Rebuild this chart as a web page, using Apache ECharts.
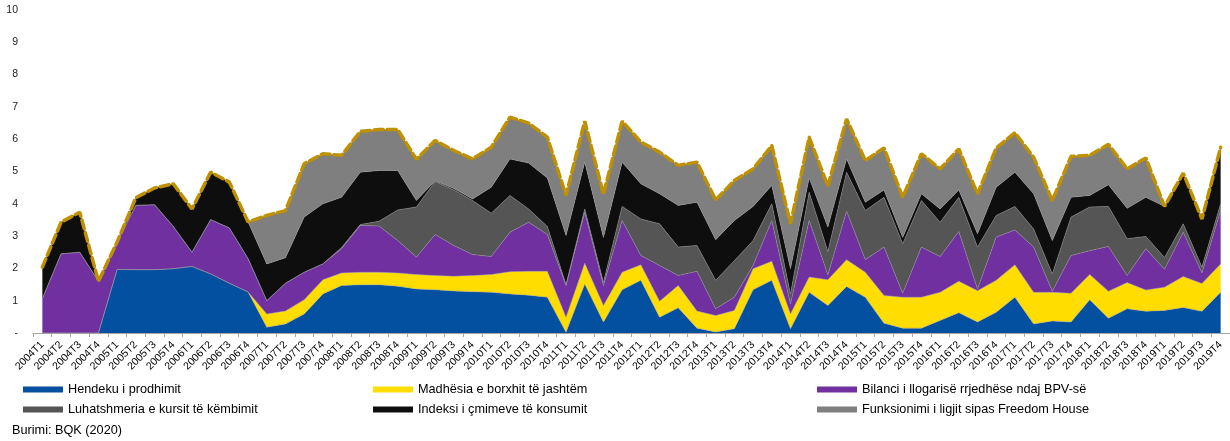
<!DOCTYPE html>
<html>
<head>
<meta charset="utf-8">
<script src="https://cdn.jsdelivr.net/npm/echarts@6/dist/echarts.min.js"></script>
<style>
  html, body { margin: 0; padding: 0; background: #fff; }
  #chart { width: 1230px; height: 441px; }
</style>
</head>
<body>
<div id="chart"></div>
<script>
// Quarterly components of the index, 2004T1–2019T4
const categories = [
  '2004T1','2004T2','2004T3','2004T4','2005T1','2005T2','2005T3','2005T4',
  '2006T1','2006T2','2006T3','2006T4','2007T1','2007T2','2007T3','2007T4',
  '2008T1','2008T2','2008T3','2008T4','2009T1','2009T2','2009T3','2009T4',
  '2010T1','2010T2','2010T3','2010T4','2011T1','2011T2','2011T3','2011T4',
  '2012T1','2012T2','2012T3','2012T4','2013T1','2013T2','2013T3','2013T4',
  '2014T1','2014T2','2014T3','2014T4','2015T1','2015T2','2015T3','2015T4',
  '2016T1','2016T2','2016T3','2016T4','2017T1','2017T2','2017T3','2017T4',
  '2018T1','2018T2','2018T3','2018T4','2019T1','2019T2','2019T3','2019T4'
];

const hendeku = [
  0,0,0,0,1.97,1.96,1.96,1.99,2.06,1.83,1.54,1.27,
  0.18,0.28,0.59,1.21,1.47,1.49,1.49,1.45,
  1.36,1.34,1.30,1.28,1.26,1.21,1.17,1.11,
  0.02,1.52,0.34,1.34,1.63,0.49,0.78,0.15,
  0.03,0.13,1.34,1.63,0.13,1.26,0.85,1.44,
  1.11,0.30,0.15,0.15,0.39,0.63,0.34,0.64,
  1.11,0.28,0.37,0.34,1.03,0.46,0.75,0.67,
  0.70,0.79,0.67,1.26
];

const borxhi = [
  0,0,0,0,0,0,0,0,0,0,0,0,
  0.41,0.40,0.44,0.44,0.39,0.39,0.39,0.41,
  0.45,0.44,0.46,0.50,0.55,0.69,0.74,0.80,
  0.47,0.64,0.51,0.54,0.48,0.49,0.69,0.53,
  0.51,0.57,0.65,0.59,0.46,0.47,0.80,0.83,
  0.77,0.86,0.96,0.96,0.87,0.97,0.97,0.99,
  1.00,0.98,0.89,0.89,0.78,0.83,0.81,0.66,
  0.72,0.96,0.86,0.88
];

const bilanci = [
  1.06,2.45,2.50,1.60,0.85,1.99,2.01,1.31,0.44,1.68,1.71,1.03,
  0.41,0.86,0.85,0.49,0.75,1.45,1.43,1.00,
  0.54,1.27,0.95,0.65,0.56,1.22,1.52,1.14,
  0.98,1.58,0.62,1.60,0.29,1.11,0.31,1.23,
  0.21,0.41,0.10,1.26,0.31,1.75,0.15,1.50,
  0.39,1.50,0.12,1.55,1.11,1.54,0.05,1.34,
  1.08,1.40,0.03,1.17,0.74,1.39,0.22,1.28,
  0.55,1.37,0.33,1.65
];

const kursi = [
  0,0,0,0,0,0,0,0,0,0,0,0,
  0,0,0,0,0.04,0.03,0.15,0.95,
  1.55,1.64,1.72,1.67,1.34,1.14,0.41,0.25,
  0.03,0.10,0.10,0.44,1.13,1.29,0.88,0.80,
  0.88,1.13,0.77,0.52,0.31,0.88,0.72,1.21,
  1.52,1.54,1.53,1.44,1.06,1.06,1.30,0.67,
  0.73,0.56,0.54,1.19,1.35,1.24,1.14,0.38,
  0.37,0.26,0.18,0.21
];

const cmimet = [
  0.98,0.98,1.24,0,0,0.24,0.52,1.32,1.34,1.47,1.42,1.14,
  1.14,0.79,1.71,1.86,1.55,1.62,1.57,1.22,
  0.20,0.02,0.04,0.05,0.80,1.13,1.42,1.50,
  1.52,1.45,1.39,1.37,1.09,0.93,1.29,1.34,
  1.26,1.24,1.06,0.57,0.78,0.44,0.76,0.41,
  0.26,0.23,0.20,0.21,0.41,0.23,0.41,0.87,
  1.06,1.09,1.03,0.61,0.36,0.67,0.94,1.21,
  1.58,1.57,1.49,1.75
];

const ligji = [
  0,0,0,0,0,0,0,0,0,0,0,0,
  1.50,1.46,1.65,1.55,1.30,1.26,1.27,1.27,
  1.28,1.25,1.18,1.24,1.24,1.29,1.24,1.26,
  1.24,1.27,1.34,1.27,1.29,1.29,1.24,1.24,
  1.23,1.24,1.16,1.23,1.39,1.26,1.27,1.24,
  1.29,1.30,1.24,1.24,1.24,1.27,1.23,1.22,
  1.22,1.13,1.24,1.27,1.24,1.25,1.22,1.22,
  0,0,0,0
];

const yTicks = [0,1,2,3,4,5,6,7,8,9,10];

const names = [
  'Hendeku i prodhimit',
  'Madhësia e borxhit të jashtëm',
  'Bilanci i llogarisë rrjedhëse ndaj BPV-së',
  'Luhatshmeria e kursit të këmbimit',
  'Indeksi i çmimeve të konsumit',
  'Funksionimi i ligjit sipas Freedom House'
];
const colors = ['#0450A0', '#FFDD00', '#7030A0', '#555555', '#0E0E0E', '#7F7F7F'];
const layers = [hendeku, borxhi, bilanci, kursi, cmimet, ligji];

// overall index = sum of the stacked components
const total = categories.map((_, i) =>
  +layers.reduce((s, arr) => s + arr[i], 0).toFixed(2));

const FONT = 'Liberation Sans, Arial, sans-serif';

const areaSeries = layers.map((arr, k) => ({
  name: names[k],
  type: 'line',
  stack: 'idx',
  data: arr,
  symbol: 'none',
  showSymbol: false,
  itemStyle: { color: colors[k] },
  lineStyle: { width: 0.6, color: 'rgba(150,150,160,0.8)' },
  areaStyle: { color: colors[k], opacity: 1 },
  emphasis: { disabled: true },
  z: 2
}));

const legendBase = {
  orient: 'vertical',
  icon: 'rect',
  itemWidth: 40,
  itemHeight: 6,
  itemGap: 7,
  selectedMode: false,
  textStyle: { fontSize: 12.7, color: '#000', fontFamily: FONT }
};

const chart = echarts.init(document.getElementById('chart'), null, { renderer: 'canvas' });
chart.setOption({
  animation: false,
  backgroundColor: '#fff',
  grid: { left: 33, right: -2, top: 10, bottom: 108, containLabel: false },
  legend: [
    Object.assign({}, legendBase, { left: 18, top: 378, data: [names[0], names[3]] }),
    Object.assign({}, legendBase, { left: 368, top: 378, data: [names[1], names[4]] }),
    Object.assign({}, legendBase, { left: 812, top: 378, data: [names[2], names[5]] })
  ],
  graphic: [{
    type: 'text',
    left: 12,
    top: 424,
    style: { text: 'Burimi: BQK (2020)', fontSize: 12.7, fill: '#000', fontFamily: FONT }
  }],
  xAxis: {
    type: 'category',
    data: categories,
    boundaryGap: true,
    axisLine: { show: true, lineStyle: { color: '#A6A6A6', width: 1 } },
    axisTick: { show: true, length: 4, lineStyle: { color: '#A6A6A6' } },
    axisLabel: { interval: 0, rotate: 45, fontSize: 10.5, color: '#000', fontFamily: FONT, margin: 10 },
    splitLine: { show: false }
  },
  yAxis: {
    type: 'value',
    min: yTicks[0],
    max: yTicks[yTicks.length - 1],
    interval: 1,
    axisLine: { show: false },
    axisTick: { show: false },
    splitLine: { show: false },
    axisLabel: {
      fontSize: 10.5, color: '#222', fontFamily: FONT, margin: 15,
      formatter: v => (v === 0 ? '-' : String(v))
    }
  },
  series: areaSeries.concat([{
    name: 'Total',
    type: 'line',
    data: total,
    symbol: 'none',
    showSymbol: false,
    lineStyle: { color: '#BF9000', width: 3.5, type: [9, 4], cap: 'round' },
    emphasis: { disabled: true },
    z: 5
  }])
});
</script>
</body>
</html>
